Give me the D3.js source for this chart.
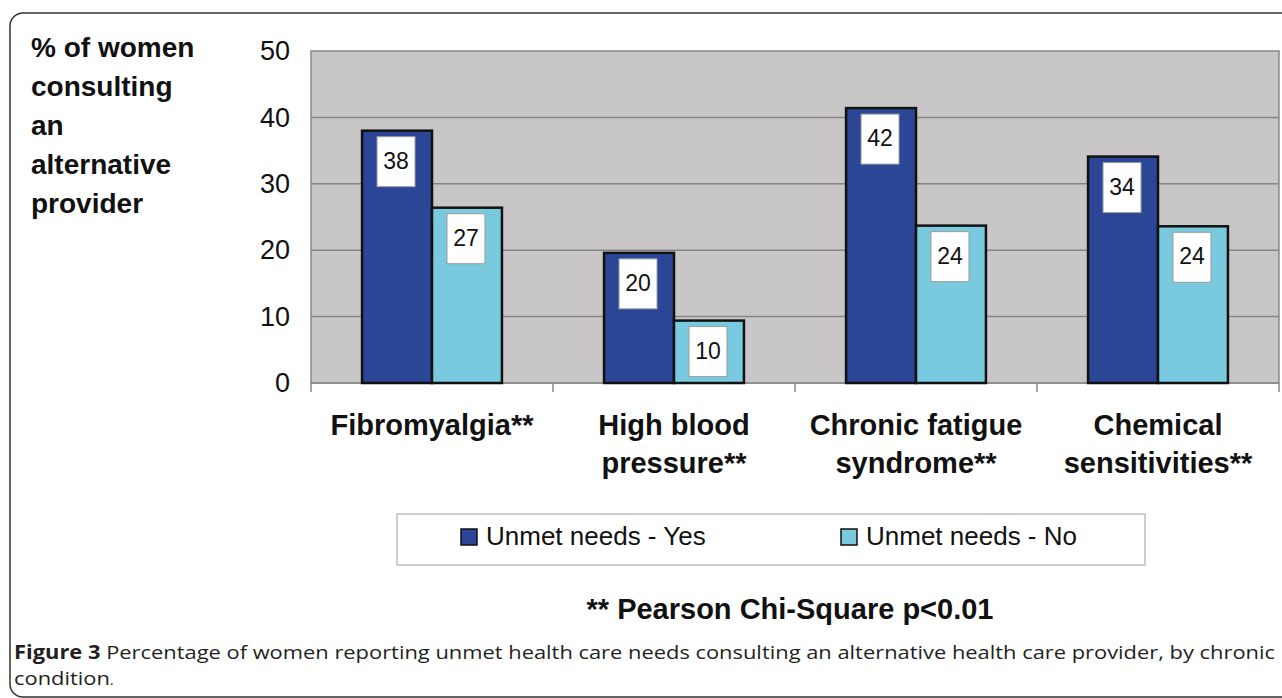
<!DOCTYPE html>
<html>
<head>
<meta charset="utf-8">
<script src="https://cdn.jsdelivr.net/npm/d3@7"></script>
<style>
  html, body { margin: 0; padding: 0; background: #fff; }
  svg { display: block; }
</style>
</head>
<body>
<div id="chart"></div>
<script>
// data
var categories = [["Fibromyalgia**"], ["High blood", "pressure**"], ["Chronic fatigue", "syndrome**"], ["Chemical", "sensitivities**"]];
var seriesNames = ["Unmet needs - Yes", "Unmet needs - No"];
var valuesYes = [38, 19.6, 41.4, 34.1];
var valuesNo = [26.4, 9.4, 23.7, 23.6];
var labelsYes = ["38", "20", "42", "34"];
var labelsNo = ["27", "10", "24", "24"];
var yTicks = [0, 10, 20, 30, 40, 50];
var yTitle = ["% of women", "consulting", "an", "alternative", "provider"];
var note = "** Pearson Chi-Square p<0.01";
var captionBold = "Figure 3";
var captionLine1 = " Percentage of women reporting unmet health care needs consulting an alternative health care provider, by chronic";
var captionLine2 = "condition";

var colors = ["#2b4597", "#79cadf"];

var W = 1282, H = 698;
var plot = {left: 311, right: 1279, top: 51, bottom: 383};

var svg = d3.select("#chart").append("svg").attr("width", W).attr("height", H)
  .style("font-family", "'Liberation Sans', Arial, sans-serif");

// outer frame
svg.append("rect").attr("x", 10).attr("y", 13).attr("width", 1300).attr("height", 684)
  .attr("rx", 13).attr("fill", "none").attr("stroke", "#333").attr("stroke-width", 1.5);

var x = d3.scaleBand().domain(d3.range(categories.length)).range([plot.left, plot.right]);
var xs = d3.scaleBand().domain(seriesNames).range([0, x.bandwidth()]).paddingOuter(0.73);
var y = d3.scaleLinear().domain([0, 50]).range([plot.bottom, plot.top]);

// plot background
svg.append("rect").attr("x", plot.left).attr("y", plot.top)
  .attr("width", plot.right - plot.left).attr("height", plot.bottom - plot.top)
  .attr("fill", "#c8c6c7").attr("stroke", "#8a8a8a").attr("stroke-width", 1.5);

// gridlines
svg.append("g").selectAll("line").data(yTicks.slice(1, -1)).join("line")
  .attr("x1", plot.left).attr("x2", plot.right)
  .attr("y1", function(d) { return y(d); }).attr("y2", function(d) { return y(d); })
  .attr("stroke", "#868686").attr("stroke-width", 1.5);

// y axis labels
var yAxis = svg.append("g").attr("transform", "translate(" + plot.left + ",0)")
  .call(d3.axisLeft(y).tickValues(yTicks).tickSize(0).tickPadding(21));
yAxis.select(".domain").remove();
yAxis.selectAll("text").attr("font-size", 27).attr("fill", "#111")
  .style("font-family", "'Liberation Sans', Arial, sans-serif");

// x axis line + category ticks
var xAxis = svg.append("g").attr("transform", "translate(0," + plot.bottom + ")");
xAxis.append("line").attr("x1", plot.left).attr("x2", plot.right)
  .attr("stroke", "#8a8a8a").attr("stroke-width", 1.5);
xAxis.selectAll("line.tick").data(d3.range(categories.length + 1)).join("line")
  .attr("class", "tick")
  .attr("x1", function(i) { return i < categories.length ? x(i) : x(i - 1) + x.bandwidth(); })
  .attr("x2", function(i) { return i < categories.length ? x(i) : x(i - 1) + x.bandwidth(); })
  .attr("y1", 0).attr("y2", 9).attr("stroke", "#8a8a8a").attr("stroke-width", 1.5);

// bars
var rows = [];
categories.forEach(function(c, i) {
  rows.push({cat: i, s: seriesNames[0], v: valuesYes[i], lab: labelsYes[i], c: colors[0]});
  rows.push({cat: i, s: seriesNames[1], v: valuesNo[i], lab: labelsNo[i], c: colors[1]});
});

var bars = svg.append("g").selectAll("g").data(rows).join("g")
  .attr("transform", function(d) { return "translate(" + (x(d.cat) + xs(d.s)) + ",0)"; });

bars.append("rect")
  .attr("x", 0).attr("width", xs.bandwidth())
  .attr("y", function(d) { return y(d.v); })
  .attr("height", function(d) { return y(0) - y(d.v); })
  .attr("fill", function(d) { return d.c; })
  .attr("stroke", "#111").attr("stroke-width", 2.5);

// value label boxes
bars.append("rect")
  .attr("x", xs.bandwidth() / 2 - 20).attr("width", 38)
  .attr("y", function(d) { return y(d.v) + 6; }).attr("height", 50)
  .attr("fill", "#fff").attr("stroke", "#9a9a9a").attr("stroke-width", 1);

bars.append("text")
  .attr("x", xs.bandwidth() / 2 - 1)
  .attr("y", function(d) { return y(d.v) + 38; })
  .attr("text-anchor", "middle").attr("font-size", 23).attr("fill", "#111")
  .text(function(d) { return d.lab; });

// category labels
var catText = svg.append("g").selectAll("text").data(categories).join("text")
  .attr("x", function(d, i) { return x(i) + x.bandwidth() / 2; })
  .attr("y", 435)
  .attr("text-anchor", "middle").attr("font-size", 29).attr("font-weight", "bold").attr("fill", "#111");
catText.selectAll("tspan").data(function(d) { return d; }).join("tspan")
  .attr("x", function() { return this.parentNode.getAttribute("x"); })
  .attr("dy", function(d, i) { return i === 0 ? 0 : 38; })
  .text(function(d) { return d; });

// y title
svg.append("text").attr("x", 31).attr("y", 57)
  .attr("font-size", 28).attr("font-weight", "bold").attr("fill", "#111")
  .selectAll("tspan").data(yTitle).join("tspan")
  .attr("x", 31).attr("dy", function(d, i) { return i === 0 ? 0 : 39; })
  .text(function(d) { return d; });

// legend
var legend = svg.append("g");
legend.append("rect").attr("x", 397).attr("y", 514).attr("width", 748).attr("height", 51)
  .attr("fill", "#fff").attr("stroke", "#bdbdbd").attr("stroke-width", 1.5);
var legX = [461, 841];
var li = legend.selectAll("g").data(seriesNames).join("g")
  .attr("transform", function(d, i) { return "translate(" + legX[i] + ",529)"; });
li.append("rect").attr("width", 16).attr("height", 16)
  .attr("fill", function(d, i) { return colors[i]; }).attr("stroke", "#111").attr("stroke-width", 1.5);
li.append("text").attr("x", 25).attr("y", 16).attr("font-size", 26).attr("fill", "#111")
  .text(function(d) { return d; });

// significance note
svg.append("text").attr("x", 790).attr("y", 619).attr("text-anchor", "middle")
  .attr("font-size", 29).attr("font-weight", "bold").attr("fill", "#111").text(note);

// caption: first line stretched to the full text width, second line same stretch
var capW = 1261, capSize = 19;
var cap = svg.append("text").attr("x", 14).attr("y", 659)
  .attr("font-size", capSize).attr("fill", "#231f20")
  .style("font-family", "'Open Sans', sans-serif");
cap.append("tspan").attr("font-weight", "bold").text(captionBold);
cap.append("tspan").text(captionLine1);
var stretch = capW / cap.node().getComputedTextLength();
cap.attr("textLength", capW).attr("lengthAdjust", "spacingAndGlyphs");

var cap2 = svg.append("text").attr("x", 14).attr("y", 685)
  .attr("font-size", capSize).attr("fill", "#231f20")
  .style("font-family", "'Open Sans', sans-serif");
cap2.append("tspan").text(captionLine2);
cap2.append("tspan").attr("font-size", 13).text(".");
cap2.attr("textLength", cap2.node().getComputedTextLength() * stretch).attr("lengthAdjust", "spacingAndGlyphs");
</script>
</body>
</html>
